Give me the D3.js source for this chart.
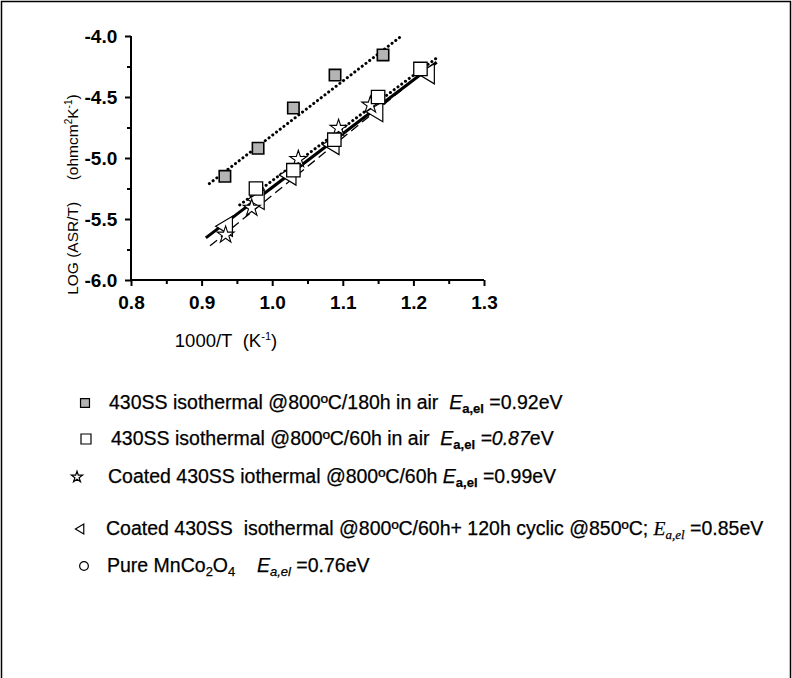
<!DOCTYPE html>
<html>
<head>
<meta charset="utf-8">
<script src="https://cdn.jsdelivr.net/npm/d3@7"></script>
<style>
  html, body { margin: 0; padding: 0; background: #fff; }
  svg { display: block; font-family: "Liberation Sans", Arial, sans-serif; }
</style>
</head>
<body>
<div id="chart"></div>
<script>
// axis ticks
const xTicks = [0.8, 0.9, 1.0, 1.1, 1.2, 1.3];
const yTicks = [-6.0, -5.5, -5.0, -4.5, -4.0];

// 430SS isothermal 800C / 180h (grey squares)
const ss180X = [0.933, 0.980, 1.030, 1.089, 1.157];
const ss180Y = [-5.15, -4.92, -4.59, -4.32, -4.155];
// 430SS isothermal 800C / 60h (open squares)
const ss60X = [0.977, 1.030, 1.088, 1.150, 1.210];
const ss60Y = [-5.25, -5.10, -4.85, -4.50, -4.27];
// coated 430SS isothermal (stars)
const coatX = [0.934, 0.971, 1.037, 1.094, 1.139];
const coatY = [-5.63, -5.41, -5.01, -4.755, -4.565];
// coated + cyclic (left triangles)
const cycX = [0.933, 0.978, 1.023, 1.084, 1.146, 1.219];
const cycY = [-5.56, -5.34, -5.14, -4.89, -4.62, -4.31];

// fitted lines, end points
const fit180 = [[0.911, -5.21], [1.181, -4.01]];
const fit60 = [[0.954, -5.385], [1.233, -4.18]];
const fitCoat = [[0.912, -5.72], [1.205, -4.34]];
const fitCyc = [[0.906, -5.655], [1.233, -4.215]];

const legendLabels = [
  "430SS isothermal @800\u00baC/180h in air",
  "430SS isothermal @800\u00baC/60h in air",
  "Coated 430SS iothermal @800\u00baC/60h",
  "Coated 430SS\u00a0 isothermal @800\u00baC/60h+ 120h cyclic @850\u00baC;",
  "Pure MnCo"
];
const legendEa = ["0.92", "0.87", "0.99", "0.85", "0.76"];

const W = 792, H = 678;
const svg = d3.select("#chart").append("svg")
  .attr("width", W).attr("height", H);

// outer frame
svg.append("rect")
  .attr("x", 1.5).attr("y", 1.5)
  .attr("width", W - 3).attr("height", H + 10)
  .attr("fill", "none").attr("stroke", "#000").attr("stroke-width", 1.5);

const x = d3.scaleLinear().domain([0.8, 1.3]).range([131, 484]);
const y = d3.scaleLinear().domain([-6, -4]).range([280, 36]);

const isMajor = (ticks, d) => ticks.some(t => Math.abs(t - d) < 1e-6);

// axes
const xAxis = svg.append("g").attr("transform", `translate(0,${y(-6)})`)
  .call(d3.axisBottom(x).tickValues(d3.range(0.8, 1.3001, 0.05)).tickSize(6)
    .tickFormat(d => isMajor(xTicks, d) ? d3.format(".1f")(d) : ""));
const yAxis = svg.append("g").attr("transform", `translate(${x(0.8)},0)`)
  .call(d3.axisLeft(y).tickValues(d3.range(-6, -3.999, 0.25)).tickSize(6)
    .tickFormat(d => isMajor(yTicks, d) ? d3.format(".1f")(d).replace("\u2212", "-") : ""));

[xAxis, yAxis].forEach(a => {
  a.select(".domain").attr("stroke-width", 2);
  a.selectAll(".tick line").attr("stroke-width", 2);
  a.selectAll("text").attr("font-size", 19).attr("font-weight", "bold")
    .attr("font-family", "Liberation Sans, Arial, sans-serif").attr("fill", "#000");
});
// plain axis lines, no end caps
xAxis.select(".domain").attr("d", `M${x(0.8)},0H${x(1.3)}`);
yAxis.select(".domain").attr("d", `M0,${y(-6)}V${y(-4)}`);
// minor ticks shorter
xAxis.selectAll(".tick").filter(d => !isMajor(xTicks, d)).select("line").attr("y2", 4);
yAxis.selectAll(".tick").filter(d => !isMajor(yTicks, d)).select("line").attr("x2", -4);
xAxis.selectAll("text").attr("dy", "1.05em");
yAxis.selectAll("text").attr("dx", "-0.25em");

// axis titles
const yt = svg.append("text")
  .attr("transform", `translate(78,${y(-5.3)}) rotate(-90)`)
  .attr("text-anchor", "middle").attr("font-size", 15.5);
yt.append("tspan").text("LOG (ASR/T)\u00a0\u00a0\u00a0\u00a0 (ohmcm");
yt.append("tspan").attr("font-size", 10).attr("dy", -6).text("2");
yt.append("tspan").attr("dy", 6).text("K");
yt.append("tspan").attr("font-size", 10).attr("dy", -6).text("-1");
yt.append("tspan").attr("dy", 6).text(")");

const xt = svg.append("text")
  .attr("x", 226).attr("y", 347).attr("text-anchor", "middle").attr("font-size", 18.5);
xt.append("tspan").text("1000/T\u00a0 (K");
xt.append("tspan").attr("font-size", 11).attr("dy", -7).text("-1");
xt.append("tspan").attr("dy", 7).text(")");

// fit lines
const line = d3.line().x(d => x(d[0])).y(d => y(d[1]));
svg.append("path").attr("d", line(fitCyc)).attr("fill", "none")
  .attr("stroke", "#000").attr("stroke-width", 3);
svg.append("path").attr("d", line(fitCoat)).attr("fill", "none")
  .attr("stroke", "#000").attr("stroke-width", 1.3).attr("stroke-dasharray", "9,5");
svg.append("path").attr("d", line(fit180)).attr("fill", "none")
  .attr("stroke", "#000").attr("stroke-width", 3).attr("stroke-linecap", "round")
  .attr("stroke-dasharray", "0.1,4.6");
svg.append("path").attr("d", line(fit60)).attr("fill", "none")
  .attr("stroke", "#000").attr("stroke-width", 3).attr("stroke-linecap", "round")
  .attr("stroke-dasharray", "0.1,4.6");

// left pointing triangle symbol
const triLeft = {
  draw(ctx, size) {
    const s = Math.sqrt(size);
    ctx.moveTo(-s * 0.55, 0);
    ctx.lineTo(s * 0.45, -s * 0.6);
    ctx.lineTo(s * 0.45, s * 0.6);
    ctx.closePath();
  }
};

function drawPoints(xs, ys, type, size, fill, sw) {
  svg.append("g").selectAll("path")
    .data(xs.map((v, i) => [v, ys[i]]))
    .join("path")
    .attr("transform", d => `translate(${x(d[0])},${y(d[1])})`)
    .attr("d", d3.symbol().type(type).size(size))
    .attr("fill", fill).attr("stroke", "#000").attr("stroke-width", sw);
}
drawPoints(cycX, cycY, triLeft, 280, "#fff", 1.2);
drawPoints(coatX, coatY, d3.symbolStar, 90, "#fff", 1.1);
drawPoints(ss60X, ss60Y, d3.symbolSquare, 180, "#fff", 1.3);
drawPoints(ss180X, ss180Y, d3.symbolSquare, 130, "#b4b4b4", 1.6);

// legend
const legY = [409, 445, 483, 535, 572];
const legMarkX = [85, 86, 77, 80, 84];
const legTextX = [109, 111, 108, 106, 107];
const legTypes = [d3.symbolSquare, d3.symbolSquare, d3.symbolStar, triLeft, d3.symbolCircle];
const legSizes = [80, 100, 38, 70, 60];
const legFill = ["#b4b4b4", "#fff", "#fff", "#fff", "#fff"];

legendLabels.forEach((lab, i) => {
  svg.append("path")
    .attr("transform", `translate(${legMarkX[i]},${legY[i] - 6})`)
    .attr("d", d3.symbol().type(legTypes[i]).size(legSizes[i]))
    .attr("fill", legFill[i]).attr("stroke", "#000").attr("stroke-width", 1.2);

  const t = svg.append("text").attr("x", legTextX[i]).attr("y", legY[i])
    .attr("font-size", 19.5).attr("stroke", "#000").attr("stroke-width", 0.25);
  if (i === 4) {
    t.append("tspan").text(lab);
    t.append("tspan").attr("font-size", 13).attr("dy", 4).text("2");
    t.append("tspan").attr("dy", -4).text("O");
    t.append("tspan").attr("font-size", 13).attr("dy", 4).text("4");
    t.append("tspan").attr("dy", -4).text("\u00a0\u00a0\u00a0\u00a0");
    t.append("tspan").attr("font-style", "italic").text("E");
    t.append("tspan").attr("font-style", "italic").attr("font-size", 13).attr("dy", 4).text("a,el");
    t.append("tspan").attr("dy", -4).text("\u00a0=" + legendEa[i] + "eV");
  } else if (i === 3) {
    t.append("tspan").text(lab + "\u00a0");
    t.append("tspan").attr("font-family", "Liberation Serif, Times New Roman, serif")
      .attr("font-style", "italic").text("E");
    t.append("tspan").attr("font-family", "Liberation Serif, Times New Roman, serif")
      .attr("font-style", "italic").attr("font-size", 13).attr("dy", 4).text("a,el");
    t.append("tspan").attr("dy", -4).text("\u00a0=" + legendEa[i] + "eV");
  } else {
    t.append("tspan").text(lab + (i === 2 ? "\u00a0" : "\u00a0\u00a0"));
    t.append("tspan").attr("font-style", "italic").text("E");
    t.append("tspan").attr("font-weight", "bold").attr("font-size", 13).attr("dy", 4).text("a,el");
    if (i === 1) {
      t.append("tspan").attr("dy", -4).attr("font-style", "italic").text("\u00a0=" + legendEa[i]);
      t.append("tspan").text("eV");
    } else {
      t.append("tspan").attr("dy", -4).text("\u00a0=" + legendEa[i] + "eV");
    }
  }
});
</script>
</body>
</html>
